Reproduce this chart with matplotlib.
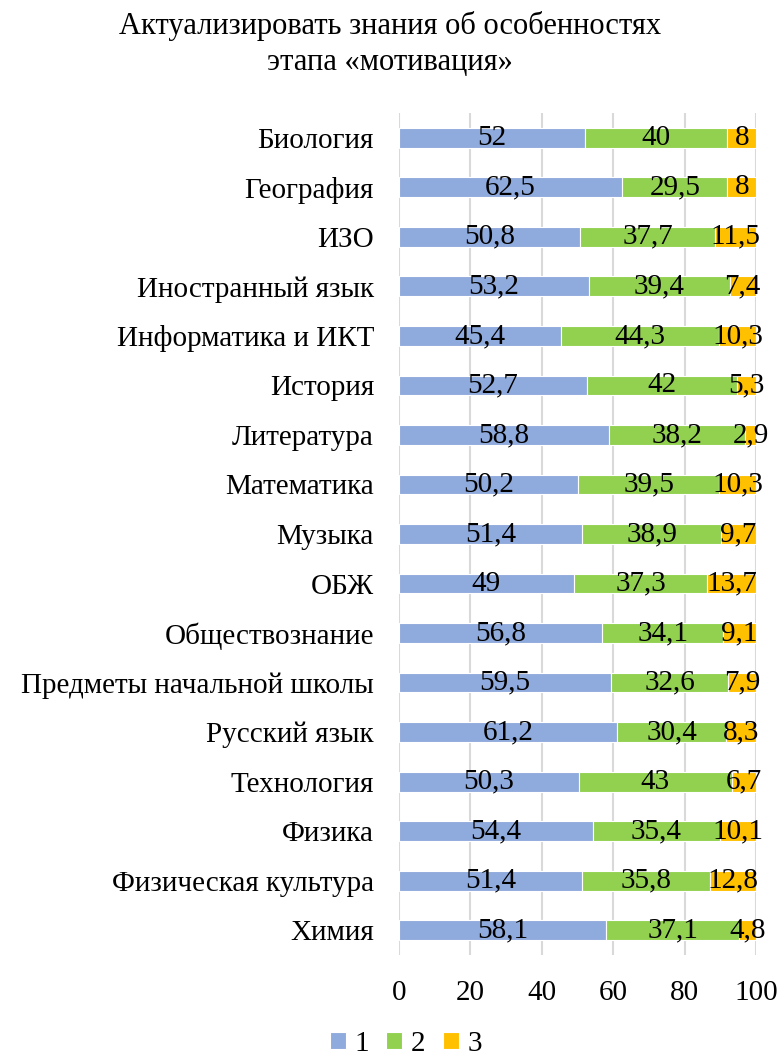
import matplotlib
matplotlib.use("Agg")
import matplotlib.pyplot as plt
import numpy as np

categories = ["Биология", "География", "ИЗО", "Иностранный язык", "Информатика и ИКТ",
              "История", "Литература", "Математика", "Музыка", "ОБЖ", "Обществознание",
              "Предметы начальной школы", "Русский язык", "Технология", "Физика",
              "Физическая культура", "Химия"]
s1 = [52, 62.5, 50.8, 53.2, 45.4, 52.7, 58.8, 50.2, 51.4, 49, 56.8, 59.5, 61.2, 50.3, 54.4, 51.4, 58.1]
s2 = [40, 29.5, 37.7, 39.4, 44.3, 42, 38.2, 39.5, 38.9, 37.3, 34.1, 32.6, 30.4, 43, 35.4, 35.8, 37.1]
s3 = [8, 8, 11.5, 7.4, 10.3, 5.3, 2.9, 10.3, 9.7, 13.7, 9.1, 7.9, 8.3, 6.7, 10.1, 12.8, 4.8]
series_names = ["1", "2", "3"]
colors = ["#8faadc", "#92d050", "#ffc000"]
title = "Актуализировать знания об особенностях\nэтапа «мотивация»"
xticks = [0, 20, 40, 60, 80, 100]

plt.rcParams['font.family'] = ['Liberation Serif', 'DejaVu Serif']

fig = plt.figure(figsize=(7.8, 10.58), dpi=100)
ax = fig.add_axes([0.5115, 1 - 955 / 1058, 0.4577, (955 - 113) / 1058])

y = np.arange(len(categories))
left = np.zeros(len(categories))
for vals, name, c in zip([s1, s2, s3], series_names, colors):
    vals = np.array(vals, dtype=float)
    ax.barh(y, vals, left=left, height=0.4, color=c, edgecolor="white",
            linewidth=0.8, label=name, zorder=3)
    for yi, l, v in zip(y, left, vals):
        ax.text(l + v / 2, yi, f"{v:g}".replace(".", ","), ha="center", va="center",
                fontsize=21, color="black", zorder=4)
    left += vals

ax.set_ylim(len(categories) - 0.5, -0.5)
ax.set_xlim(0, 100)
ax.set_yticks(y)
ax.set_yticklabels(categories, fontsize=21)
ax.set_xticks(xticks)
ax.set_xticklabels([str(t) for t in xticks], fontsize=21)
ax.tick_params(axis="y", length=0, pad=18)
ax.tick_params(axis="x", length=0, pad=18)
ax.grid(axis="x", color="#d9d9d9", linewidth=1.5, zorder=0)
for s in ax.spines.values():
    s.set_visible(False)

fig.text(0.5, 1 - 44 / 1058, title, fontsize=22, ha="center", va="center", linespacing=1.3)

handles, labels = ax.get_legend_handles_labels()
fig.legend(handles, labels, loc="center", bbox_to_anchor=(406 / 780, 1 - 1044 / 1058), ncol=3,
           frameon=False, fontsize=21, handlelength=0.55, handleheight=0.55,
           handletextpad=0.3, columnspacing=0.6, borderpad=0)

fig.savefig("out.png", dpi=100)
